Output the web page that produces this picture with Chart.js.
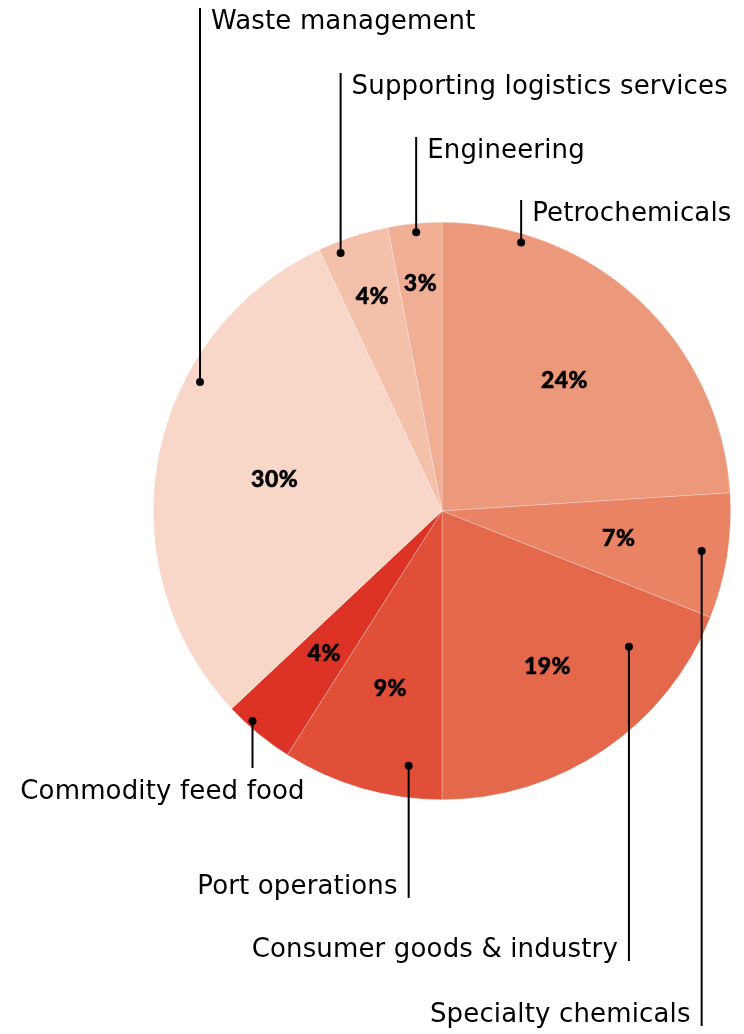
<!DOCTYPE html>
<html>
<head>
<meta charset="utf-8">
<script src="https://cdn.jsdelivr.net/npm/chart.js@4"></script>
<style>
  html, body { margin: 0; padding: 0; background: #fff; }
  #wrap { width: 744px; height: 1034px; }
</style>
</head>
<body>
<div id="wrap"><canvas id="SectorChart" width="744" height="1034"></canvas></div>
<script>
// slices clockwise from 12 o'clock
const sectors = ['Petrochemicals', 'Specialty chemicals', 'Consumer goods & industry', 'Port operations',
                 'Commodity feed food', 'Waste management', 'Supporting logistics services', 'Engineering'];
const shares = [24, 7, 19, 9, 4, 30, 4, 3];
const shareLabels = shares.map(v => v + '%');
const colours = ['#EC997B', '#EA8264', '#E4684B', '#E24F38', '#DD3326', '#F8D7C9', '#F5C0AA', '#F0AE95'];

// where the percentage sits (fraction of radius)
const pctRadius = [0.62, 0.62, 0.65, 0.64, 0.64, 0.59, 0.78, 0.79];

// leader lines: dot position inside slice (t = fraction of the slice angle, r = fraction of radius),
// textY = middle of the label text, side = where the text sits relative to the line
const leaders = [
    {t: 0.19, r: 0.97, textY: 214, side: 'right'},
    {t: 0.49, r: 0.91, textY: 1015, side: 'left'},
    {t: 0.21, r: 0.80, textY: 950, side: 'left'},
    {t: 0.23, r: 0.89, textY: 887, side: 'left'},
    {t: 0.67, r: 0.98, textY: 792, side: 'below'},
    {t: 0.66, r: 0.95, textY: 22, side: 'right'},
    {t: 0.26, r: 0.96, textY: 87, side: 'right'},
    {t: 0.51, r: 0.97, textY: 151, side: 'right'}
];

const labelFont = '26px "DejaVu Sans", sans-serif';
const pctFont = '900 23px Lato, sans-serif';

const leaderPlugin = {
    id: 'leaders',
    afterDatasetsDraw(chart) {
        const c = chart.ctx;
        const arcs = chart.getDatasetMeta(0).data;
        c.save();
        arcs.forEach((arc, i) => {
            const {x, y, startAngle, endAngle, outerRadius} = arc.getProps(['x', 'y', 'startAngle', 'endAngle', 'outerRadius'], true);

            // percentage in the slice
            const mid = (startAngle + endAngle) / 2;
            const px = x + Math.cos(mid) * outerRadius * pctRadius[i];
            const py = y + Math.sin(mid) * outerRadius * pctRadius[i];
            c.fillStyle = '#000';
            c.strokeStyle = '#000';
            c.font = pctFont;
            c.letterSpacing = '0.5px';
            c.textAlign = 'center';
            c.textBaseline = 'middle';
            c.lineWidth = 0.5;
            c.fillText(shareLabels[i], px, py);
            c.strokeText(shareLabels[i], px, py);

            // dot + vertical leader + name
            const L = leaders[i];
            const a = startAngle + L.t * (endAngle - startAngle);
            const dx = x + Math.cos(a) * outerRadius * L.r;
            const dy = y + Math.sin(a) * outerRadius * L.r;
            let endY;
            if (L.side === 'right') endY = L.textY - 14;
            else if (L.side === 'left') endY = L.textY + 11;
            else endY = L.textY - 24;

            c.lineWidth = 2;
            c.beginPath();
            c.moveTo(dx, dy);
            c.lineTo(dx, endY);
            c.stroke();
            c.beginPath();
            c.arc(dx, dy, 4, 0, Math.PI * 2);
            c.fill();

            c.font = labelFont;
            c.letterSpacing = '0.15px';
            c.textBaseline = 'middle';
            if (L.side === 'right') {
                c.textAlign = 'left';
                c.fillText(sectors[i], dx + 11, L.textY);
            } else if (L.side === 'left') {
                c.textAlign = 'right';
                c.fillText(sectors[i], dx - 11, L.textY);
            } else {
                c.textAlign = 'center';
                c.fillText(sectors[i], dx - 90, L.textY);
            }
        });
        c.restore();
    }
};

const ctx = document.getElementById('SectorChart').getContext('2d');

const data = {
    labels: sectors,
    datasets: [
        {
            data: shares,
            backgroundColor: colours,
            borderColor: 'rgba(255, 255, 255, 0.45)',
            borderWidth: 0.6
        }
    ]
};

const config = {
    type: 'pie',
    data: data,
    options: {
        responsive: false,
        animation: false,
        layout: {
            padding: {left: 153, right: 13, top: 222, bottom: 234}
        },
        plugins: {
            legend: {display: false},
            tooltip: {enabled: false}
        }
    },
    plugins: [leaderPlugin]
};

const sectorChart = new Chart(ctx, config);
</script>
</body>
</html>
